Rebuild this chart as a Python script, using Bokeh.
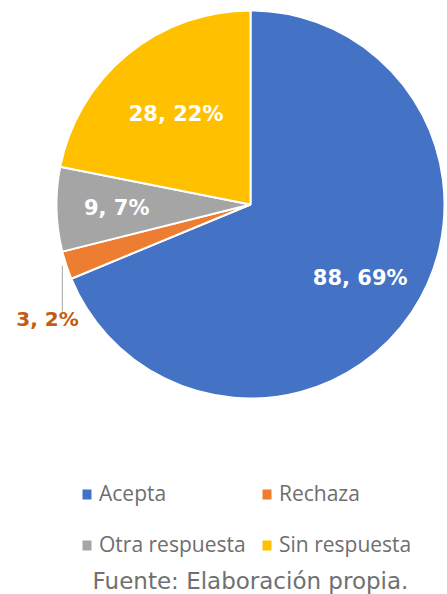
import math
from bokeh.plotting import figure
from bokeh.models import Range1d, ColumnDataSource
from bokeh.core.properties import value
from bokeh.embed import file_html
from bokeh.resources import INLINE

# ---- data ----
categories = ["Acepta", "Rechaza", "Otra respuesta", "Sin respuesta"]
counts = [88, 3, 9, 28]
percents = [69, 2, 7, 22]
colors = ["#4472C4", "#ED7D31", "#A5A5A5", "#FFC000"]
source_note = "Fuente: Elaboración propia."

W, H = 447, 594
def px(x):  # page x -> data x
    return x
def py(y):  # page y -> data y
    return H - y

p = figure(width=W, height=H, output_backend="svg", toolbar_location=None,
           x_range=Range1d(0, W), y_range=Range1d(0, H), min_border=0)
p.axis.visible = False
p.grid.visible = False
p.outline_line_color = None
p.background_fill_color = "white"

cx, cy, R = px(250), py(204), 194
total = sum(counts)
starts, ends, mids = [], [], []
a = math.pi / 2
for c in counts:
    span = c / total * 2 * math.pi
    starts.append(a)
    ends.append(a - span)
    mids.append(a - span / 2)
    a -= span

src = ColumnDataSource(dict(start=starts, end=ends, color=colors))
p.wedge(x=cx, y=cy, radius=R, start_angle="start", end_angle="end",
        direction="clock", fill_color="color", line_color="white",
        line_width=2, source=src)

labels = [f"{c}, {pc}%" for c, pc in zip(counts, percents)]
fracs = [0.68, None, 0.69, 0.605]
lx, ly, lt = [], [], []
for i, f in enumerate(fracs):
    if f is None:
        continue
    lx.append(cx + f * R * math.cos(mids[i]))
    ly.append(cy + f * R * math.sin(mids[i]))
    lt.append(labels[i])
p.text(x=lx, y=ly, text=lt, text_color="white", text_font=value("DejaVu Sans"),
       text_font_style="bold", text_font_size="21px", text_align="center",
       text_baseline="middle")

# outside label for small slice with leader
ex = cx + (R + 1) * math.cos(mids[1]) - 3
ey = cy + (R + 1) * math.sin(mids[1])
p.line(x=[ex, ex], y=[ey, py(311)], line_color="#A6A6A6", line_width=1)
p.text(x=[px(47)], y=[py(318)], text=[labels[1]], text_color="#C55A11",
       text_font=value("DejaVu Sans"), text_font_style="bold",
       text_font_size="20px", text_align="center", text_baseline="middle")

# legend
mx = [px(86.5), px(266.5), px(86.5), px(266.5)]
my = [py(494), py(494), py(545), py(545)]
p.rect(x=mx, y=my, width=9, height=10, fill_color=colors, line_color=None)
p.text(x=[m + 12 for m in mx], y=[m + 2 for m in my], text=categories,
       text_color="#6E6E6E", text_font=value("Open Sans"),
       text_font_size="21px", text_align="left", text_baseline="middle")

p.text(x=[px(250)], y=[py(580)], text=[source_note], text_color="#707070",
       text_font=value("DejaVu Sans"), text_font_size="23px",
       text_align="center", text_baseline="middle")

open("out.html", "w").write(file_html(p, INLINE))
